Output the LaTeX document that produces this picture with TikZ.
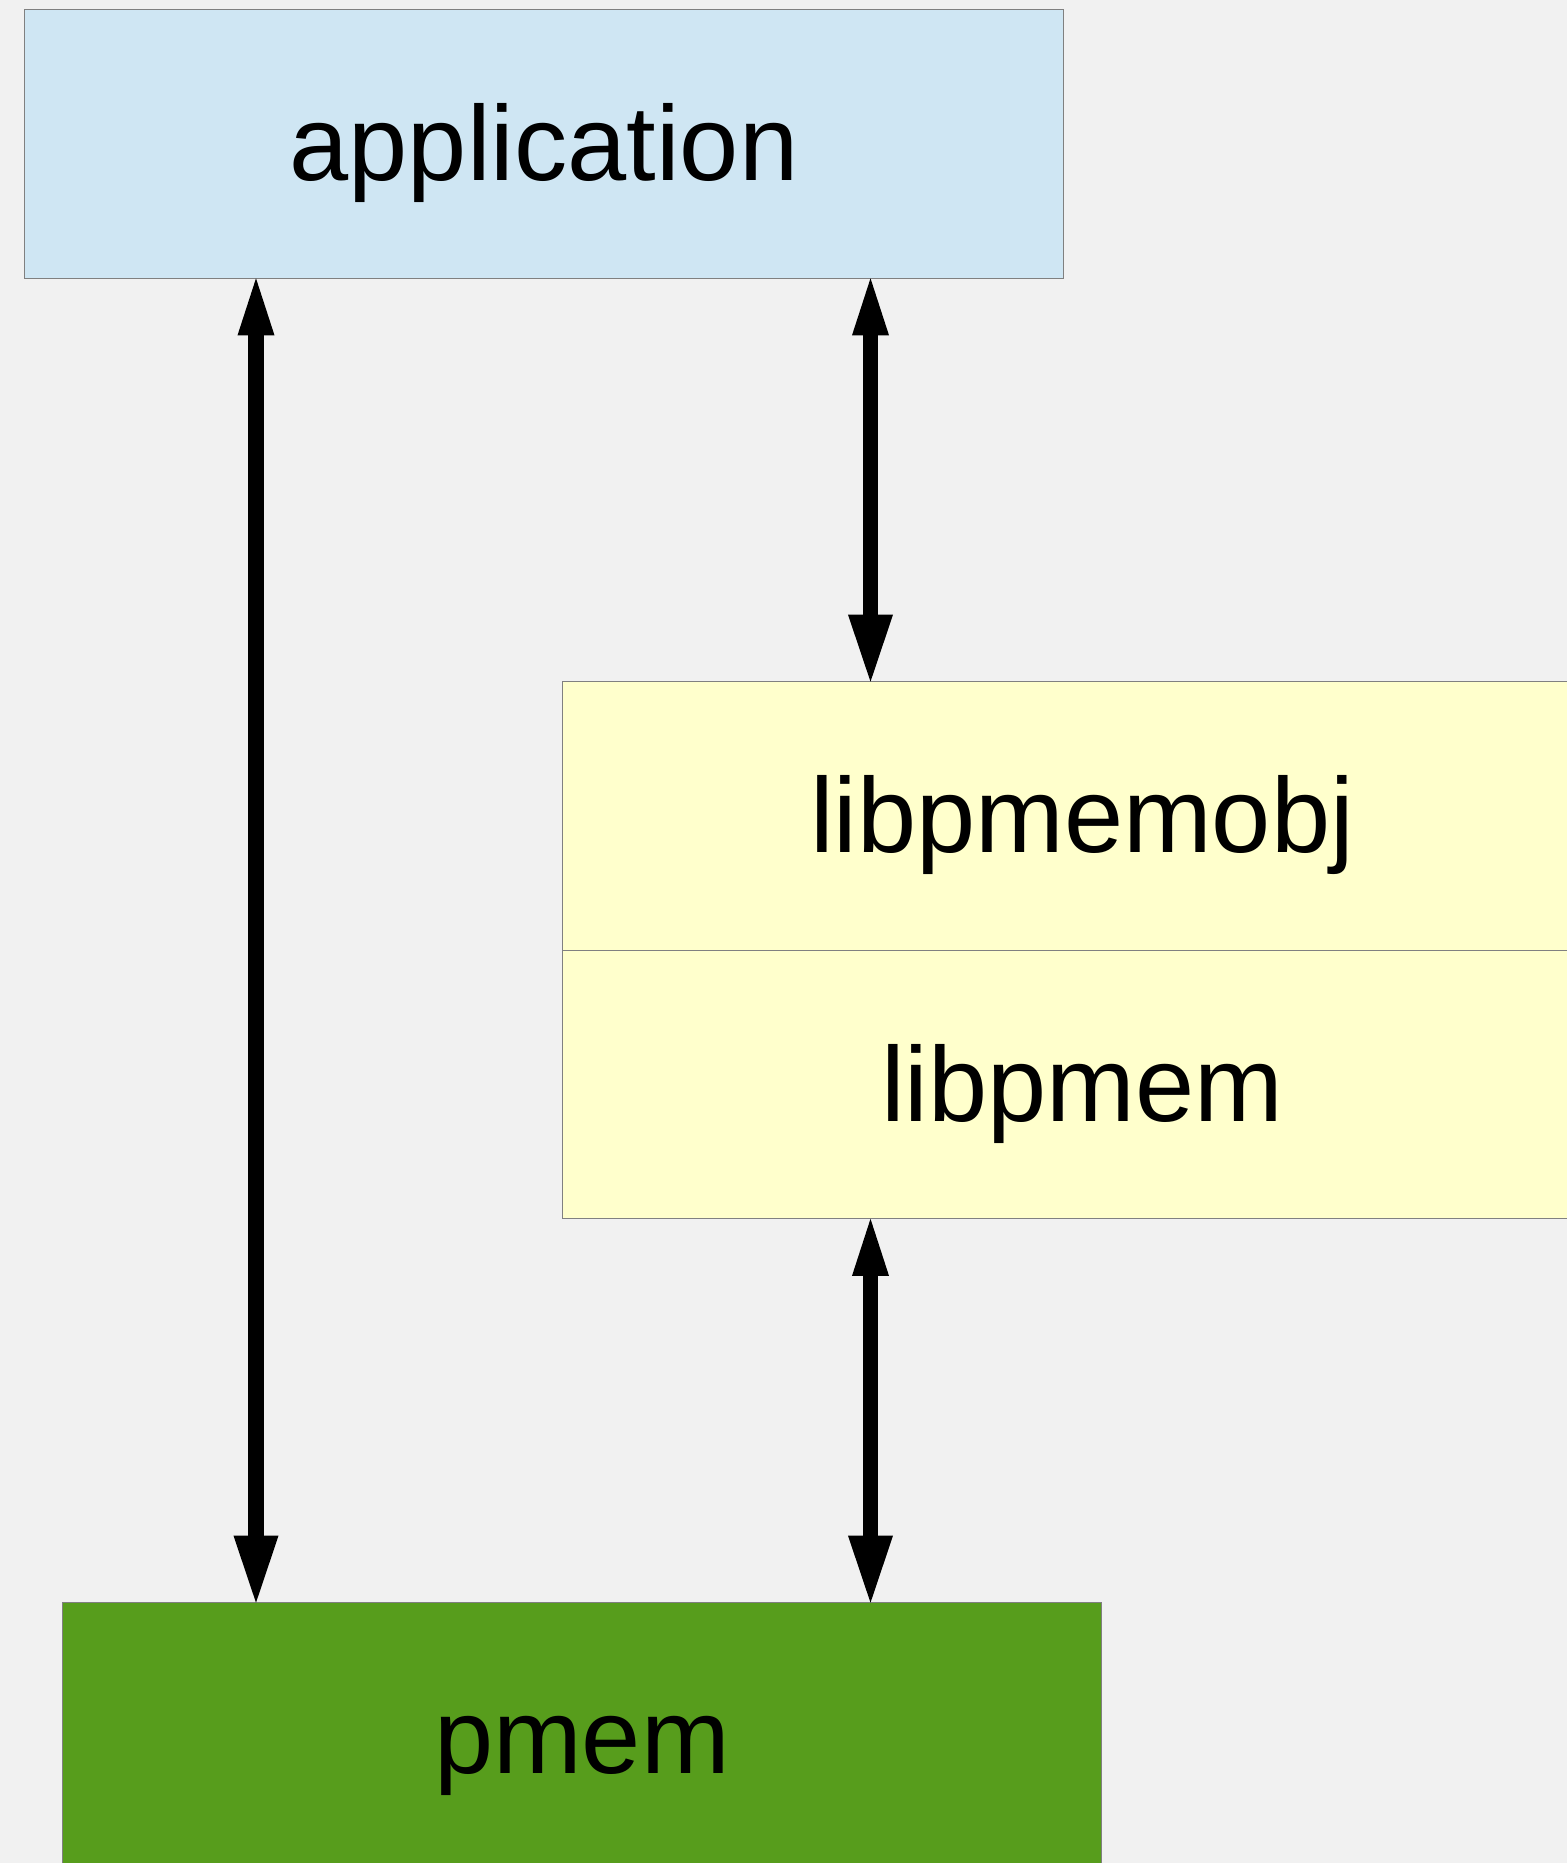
\documentclass[tikz,border=0pt]{standalone}
\usepackage[rgb]{xcolor}
\usepackage{fontspec}
\setmainfont{Liberation Sans}
\usepackage{tikz}
\usetikzlibrary{arrows.meta}

\definecolor{canvas}{HTML}{F1F1F1}
\definecolor{appblue}{HTML}{CFE6F3}
\definecolor{libyellow}{HTML}{FFFFCC}
\definecolor{devgreen}{HTML}{579D1C}
\definecolor{edge}{HTML}{808080}

\begin{document}
\begin{tikzpicture}[x=0.01cm, y=-0.01cm,
    layer/.style={draw=edge, line width=0.01cm, inner sep=0pt, outer sep=0pt,
        minimum width=10.38cm, minimum height=2.685cm,
        font=\fontsize{30.25pt}{36pt}\selectfont,
        text height=27.38pt, text depth=6.41pt},
    link/.style={line width=0.157cm,
        {Triangle[length=0.57cm,width=0.37cm,line width=0pt]}-{Triangle[length=0.67cm,width=0.45cm,line width=0pt]}}]

% Page with its grey background
\useasboundingbox[fill=canvas] (0,0) rectangle (1567,1863);
\clip (0,0) rectangle (1567,1863);

% Draws the software stack: application on top, the libraries in the middle
\node[layer, fill=appblue] (app) at (544,144) {application};
\node[layer, fill=libyellow] (obj) at (1082,816) {libpmemobj};
\node[layer, fill=libyellow] (lib) at (1082,1084.5) {libpmem};

% The persistent memory device at the bottom
\node[layer, fill=devgreen] (dev) at (582,1737) {pmem};

% Columns the connectors run along
\coordinate (direct) at (256,0);
\coordinate (vialib) at (870.5,0);

% Direct access from the application, and access through the libraries
\draw[link] (app.south -| direct) -- (dev.north -| direct);
\draw[link] (app.south -| vialib) -- (obj.north -| vialib);
\draw[link] (lib.south -| vialib) -- (dev.north -| vialib);

\end{tikzpicture}
\end{document}
